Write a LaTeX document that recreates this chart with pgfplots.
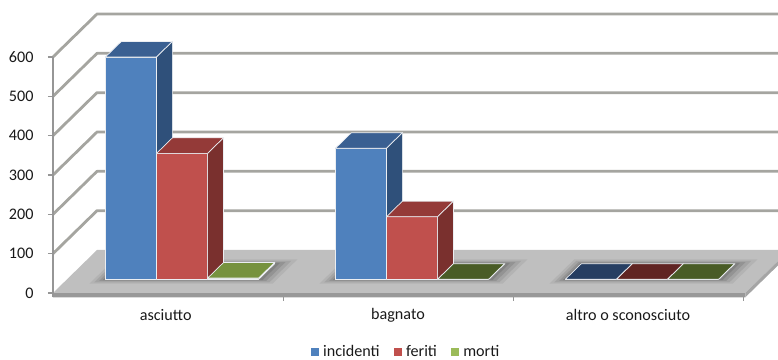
\documentclass[border=0pt]{standalone}
\usepackage{fontspec}
\setmainfont{Carlito}
\usepackage{pgfplots}
\pgfplotsset{compat=1.18}

% bar faces: front, top, side
\definecolor{incFront}{RGB}{79,129,189}
\definecolor{incTop}{RGB}{58,96,146}
\definecolor{incSide}{RGB}{47,80,122}
\definecolor{incFlat}{RGB}{38,62,98}
\definecolor{ferFront}{RGB}{192,80,77}
\definecolor{ferTop}{RGB}{148,58,56}
\definecolor{ferSide}{RGB}{122,48,46}
\definecolor{ferFlat}{RGB}{96,36,35}
\definecolor{morFront}{RGB}{155,187,89}
\definecolor{morTop}{RGB}{118,146,62}
\definecolor{morSide}{RGB}{96,120,50}
\definecolor{morFlat}{RGB}{73,92,38}
\definecolor{gridGray}{RGB}{165,165,160}
\definecolor{floorTop}{RGB}{191,191,191}
\definecolor{floorFront}{RGB}{152,152,152}
\definecolor{floorSide}{RGB}{165,165,165}
\definecolor{axisGray}{RGB}{150,150,150}
\definecolor{barEdge}{RGB}{235,238,242}
\definecolor{labelText}{RGB}{25,25,25}

% one 3-D column: #1 left x, #2 right x, #3 value, #4 front, #5 top, #6 side
\newcommand{\cuboid}[6]{%
  \addplot3[forget plot, mark=none, fill=#4, draw=barEdge, line width=0.7bp]
    coordinates {(#1,0.32,0) (#2,0.32,0) (#2,0.32,#3) (#1,0.32,#3) (#1,0.32,0)};
  \addplot3[forget plot, mark=none, fill=#5, draw=barEdge, line width=0.7bp]
    coordinates {(#1,0.32,#3) (#2,0.32,#3) (#2,0.68,#3) (#1,0.68,#3) (#1,0.32,#3)};
  \addplot3[forget plot, mark=none, fill=#6, draw=barEdge, line width=0.7bp]
    coordinates {(#2,0.32,0) (#2,0.68,0) (#2,0.68,#3) (#2,0.32,#3) (#2,0.32,0)};
}

% soft shadow under a group of columns spanning #1..#2
\newcommand{\groundshadow}[2]{%
  \addplot3[forget plot, mark=none, draw=none, fill=black, fill opacity=0.06]
    coordinates {(#1-0.05,0.22,0) (#2+0.08,0.22,0) (#2+0.08,0.78,0) (#1-0.05,0.78,0)};
  \addplot3[forget plot, mark=none, draw=none, fill=black, fill opacity=0.08]
    coordinates {(#1-0.035,0.25,0) (#2+0.06,0.25,0) (#2+0.06,0.75,0) (#1-0.035,0.75,0)};
  \addplot3[forget plot, mark=none, draw=none, fill=black, fill opacity=0.10]
    coordinates {(#1-0.02,0.28,0) (#2+0.04,0.28,0) (#2+0.04,0.72,0) (#1-0.02,0.72,0)};
  \addplot3[forget plot, mark=none, draw=none, fill=black, fill opacity=0.12]
    coordinates {(#1-0.008,0.30,0) (#2+0.02,0.30,0) (#2+0.02,0.70,0) (#1-0.008,0.70,0)};
}

\begin{document}
\begin{tikzpicture}
\useasboundingbox (0,0) rectangle (778bp,360bp);
\clip (0,0) rectangle (778bp,360bp);
\begin{axis}[
  anchor=origin, at={(53bp,67bp)},
  x={(230bp,0bp)}, y={(44bp,43bp)}, z={(0bp,0.39333bp)},
  xmin=0, xmax=3.01, ymin=0, ymax=1, zmin=-11, zmax=600,
  hide axis, clip=false, no markers,
  font=\fontsize{16.2}{19}\selectfont,
  legend columns=3,
  legend image code/.code={\fill[#1] (0bp,-3.5bp) rectangle (7bp,3.5bp);},
  legend style={at={(axis cs:1.535,0,-150)}, anchor=center,
    draw=none, fill=none, text=labelText,
    font=\fontsize{16.2}{19}\selectfont,
    /tikz/every even column/.append style={column sep=12bp},
    /tikz/every odd column/.append style={column sep=3bp}},
]
% walls: gridlines on the side and back wall
\pgfplotsinvokeforeach{100,200,300,400,500,600}{
  \addplot3[forget plot, mark=none, draw=gridGray, line width=2.8bp, line join=round]
    coordinates {(0,0,#1) (0,1,#1) (3.01,1,#1)};
}
% floor slab
\addplot3[forget plot, mark=none, draw=none, fill=floorTop]
  coordinates {(0,0,0) (3.01,0,0) (3.01,1,0) (0,1,0) (0,0,0)};
\addplot3[forget plot, mark=none, draw=none, fill=floorFront]
  coordinates {(0,0,-11) (3.01,0,-11) (3.01,0,0) (0,0,0) (0,0,-11)};
\addplot3[forget plot, mark=none, draw=none, fill=floorSide]
  coordinates {(3.01,0,-11) (3.01,1,-11) (3.01,1,0) (3.01,0,0) (3.01,0,-11)};
% value axis and tick marks
\addplot3[forget plot, mark=none, draw=axisGray, line width=1.3bp]
  coordinates {(0,0,-11) (0,0,600)};
\pgfplotsinvokeforeach{0,100,200,300,400,500,600}{
  \addplot3[forget plot, mark=none, draw=axisGray, line width=1.1bp]
    coordinates {(-0.022,0,#1) (0,0,#1)};
}
\pgfplotsinvokeforeach{1,2,3}{
  \addplot3[forget plot, mark=none, draw=axisGray, line width=0.9bp]
    coordinates {(#1,0,-11) (#1,0,-21)};
}
% shadows on the floor
\groundshadow{0.1667}{0.8333}
\groundshadow{1.1667}{1.8333}
\groundshadow{2.1667}{2.8333}
% asciutto
\cuboid{0.1667}{0.3889}{565}{incFront}{incTop}{incSide}
\cuboid{0.3889}{0.6111}{320}{ferFront}{ferTop}{ferSide}
\cuboid{0.6111}{0.8333}{3}{morFront}{morTop}{morSide}
% bagnato
\cuboid{1.1667}{1.3889}{333}{incFront}{incTop}{incSide}
\cuboid{1.3889}{1.6111}{159}{ferFront}{ferTop}{ferSide}
\cuboid{1.6111}{1.8333}{0}{morFront}{morFlat}{morSide}
% altro o sconosciuto
\cuboid{2.1667}{2.3889}{0}{incFront}{incFlat}{incSide}
\cuboid{2.3889}{2.6111}{0}{ferFront}{ferFlat}{ferSide}
\cuboid{2.6111}{2.8333}{0}{morFront}{morFlat}{morSide}
% tick labels
\pgfplotsinvokeforeach{0,100,200,300,400,500,600}{
  \node[anchor=east, text=labelText, xshift=-16bp] at (axis cs:0,0,#1) {#1};
}
\node[text=labelText] at (axis cs:0.49,0,-56) {asciutto};
\node[text=labelText] at (axis cs:1.5,0,-56) {bagnato};
\node[text=labelText] at (axis cs:2.5,0,-56) {altro o sconosciuto};
% legend
\addlegendimage{incFront}
\addlegendentry{incidenti}
\addlegendimage{ferFront}
\addlegendentry{feriti}
\addlegendimage{morFront}
\addlegendentry{morti}
\end{axis}
\end{tikzpicture}
\end{document}
